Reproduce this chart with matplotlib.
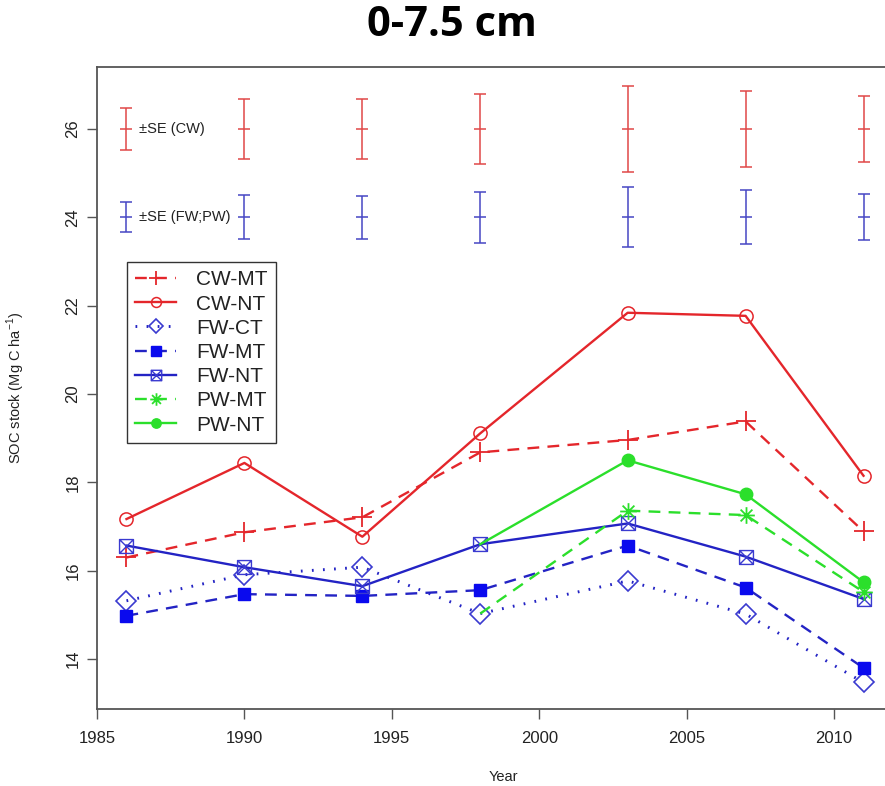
import matplotlib
matplotlib.use('Agg')
import matplotlib.pyplot as plt
from matplotlib.path import Path

# ---- data ----
years = [1986, 1990, 1994, 1998, 2003, 2007, 2011]
pw_years = [1998, 2003, 2007, 2011]
cw_mt = [16.30, 16.87, 17.21, 18.68, 18.96, 19.38, 16.89]
cw_nt = [17.17, 18.44, 16.77, 19.11, 21.84, 21.77, 18.15]
fw_ct = [15.32, 15.91, 16.08, 15.03, 15.77, 15.02, 13.47]
fw_mt = [14.98, 15.47, 15.43, 15.56, 16.57, 15.62, 13.80]
fw_nt = [16.57, 16.08, 15.65, 16.60, 17.07, 16.32, 15.36]
pw_mt = [15.03, 17.36, 17.26, 15.52]
pw_nt = [16.60, 18.50, 17.73, 15.74]

se_years = [1986, 1990, 1994, 1998, 2003, 2007, 2011]
se_cw = [0.48, 0.69, 0.68, 0.80, 0.98, 0.86, 0.75]
se_fwpw = [0.34, 0.50, 0.49, 0.57, 0.68, 0.61, 0.52]
se_cw_level = 26
se_fwpw_level = 24

xticks = [1985, 1990, 1995, 2000, 2005, 2010]
yticks = [14, 16, 18, 20, 22, 24, 26]

# ---- style ----
RED = '#E4262B'
BLUE = '#2323C4'
BLUE_F = '#0A0AEE'
GREEN = '#2BDF2B'
SPINE = '#555555'

plt.rcParams['font.family'] = ['Liberation Sans', 'DejaVu Sans']

fig = plt.figure(figsize=(8.85, 7.86), dpi=100)
W, H = 885, 786
x0, x1, y0, y1 = 97, 893, 709, 66.7
ax = fig.add_axes([x0 / W, 1 - y0 / H, (x1 - x0) / W, (y0 - y1) / H])
ax.set_xlim(1985, 2012)
ax.set_ylim(12.87, 27.41)

# custom markers
boxx = Path([(-1, -1), (1, -1), (1, 1), (-1, 1), (-1, -1), (-1, -1), (1, 1), (-1, 1), (1, -1)],
            [Path.MOVETO, Path.LINETO, Path.LINETO, Path.LINETO, Path.CLOSEPOLY,
             Path.MOVETO, Path.LINETO, Path.MOVETO, Path.LINETO])
s = 0.7071
star = Path([(-1, 0), (1, 0), (0, -1), (0, 1), (-s, -s), (s, s), (-s, s), (s, -s)],
            [Path.MOVETO, Path.LINETO] * 4)

LW = 1.7
dashed = (5, 3.5)
dotted = (0.6, 3.2)

ax.plot(years, cw_mt, color=RED, lw=LW, dashes=dashed, marker='+', ms=14, mew=1.3,
        label='CW-MT')
ax.plot(years, cw_nt, color=RED, lw=LW, marker='o', ms=9.5, mfc='none', mew=1.1,
        label='CW-NT')
ax.plot(years, fw_ct, color=BLUE, lw=LW + 0.4, dashes=dotted, marker='D', ms=10, mfc='none',
        mew=1.2, mec='#3A3AD0', label='FW-CT')
ax.plot(years, fw_mt, color=BLUE, lw=LW, dashes=dashed, marker='s', ms=9, mfc=BLUE_F,
        mec=BLUE_F, label='FW-MT')
ax.plot(years, fw_nt, color=BLUE, lw=LW, marker=boxx, ms=10, mfc='none', mew=1.0,
        mec='#3A3AD0', label='FW-NT')
ax.plot(pw_years, pw_mt, color=GREEN, lw=LW, dashes=dashed, marker=star, ms=12, mew=1.3,
        markevery=[1, 2, 3], label='PW-MT')
ax.plot(pw_years, pw_nt, color=GREEN, lw=LW, marker='o', ms=9, mfc=GREEN, mec=GREEN,
        markevery=[1, 2, 3], label='PW-NT')

# SE bars
ax.errorbar(se_years, [se_cw_level] * len(se_years), yerr=se_cw, fmt='_', ms=9, mew=1.1,
            color='#E04848', ecolor='#E04848', elinewidth=1.1, capsize=4.5, capthick=1.1)
ax.errorbar(se_years, [se_fwpw_level] * len(se_years), yerr=se_fwpw, fmt='_', ms=9, mew=1.1,
            color='#4646C4', ecolor='#4646C4', elinewidth=1.1, capsize=4.5, capthick=1.1)
ax.text(se_years[0] + 0.42, se_cw_level, '±SE (CW)', fontsize=10.5, va='center', ha='left',
        color='#222222')
ax.text(se_years[0] + 0.42, se_fwpw_level, '±SE (FW;PW)', fontsize=10.5, va='center',
        ha='left', color='#222222')

leg = ax.legend(loc='upper left', bbox_to_anchor=((127 - x0) / (x1 - x0), (y0 - 262) / (y0 - y1)),
                borderaxespad=0, fontsize=15, handlelength=1.95, handletextpad=0.95,
                labelspacing=0.25, borderpad=0.4, fancybox=False, framealpha=1,
                edgecolor='#333333', markerscale=0.75)
leg.get_frame().set_linewidth(1.0)
for t in leg.get_texts():
    t.set_color('#222222')

# axes styling
for sp in ax.spines.values():
    sp.set_color(SPINE)
    sp.set_linewidth(1.3)
ax.set_xticks(xticks)
ax.set_yticks(yticks)
ax.tick_params(direction='out', length=7, width=1.0, color=SPINE, labelsize=12,
               labelcolor='#222222')
ax.tick_params(axis='x', pad=9)
ax.tick_params(axis='y', pad=5)
plt.setp(ax.get_yticklabels(), rotation=90, va='center')

ax.set_ylabel('SOC stock (Mg C ha$^{\\mathregular{-1}}$)', fontsize=10.5, color='#222222')
ax.yaxis.set_label_coords((27 - x0) / (x1 - x0), 0.5)
ax.set_xlabel('Year', fontsize=10.5, color='#222222')
ax.xaxis.set_label_coords((503 - x0) / (x1 - x0), (y0 - 770) / (y0 - y1))

fig.text(452 / W, 1 - 25 / H, '0-7.5 cm', fontsize=30, fontweight='bold', ha='center',
         va='center', family=['Open Sans', 'DejaVu Sans'])

fig.savefig('out.png', dpi=100)
